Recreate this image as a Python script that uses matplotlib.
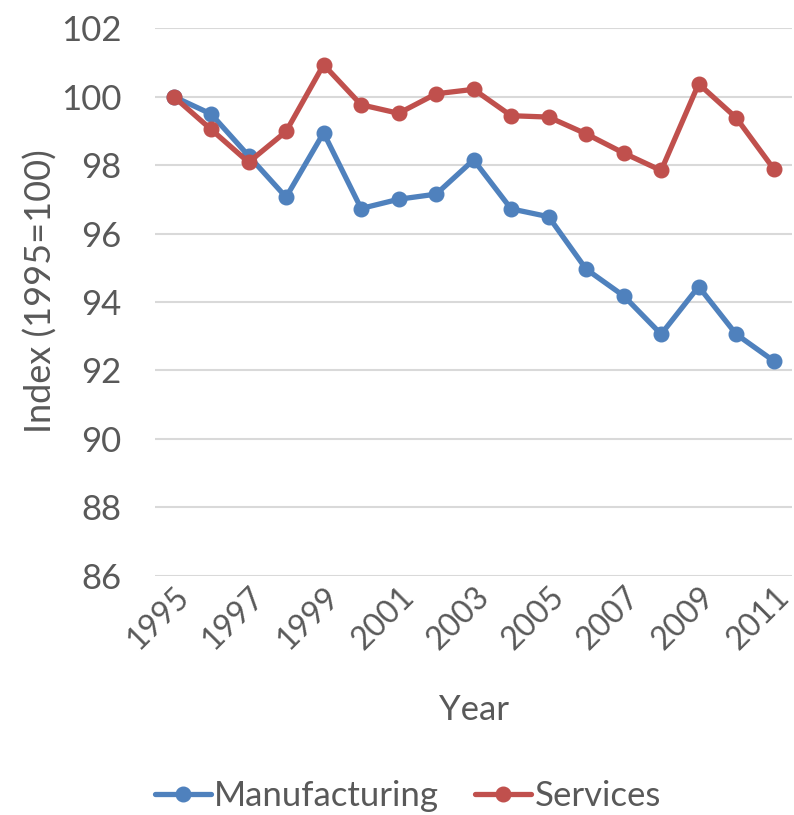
import matplotlib.pyplot as plt

years = list(range(1995, 2012))
manufacturing = [100, 99.49, 98.27, 97.06, 98.94, 96.73, 97.0, 97.15, 98.15,
                 96.72, 96.49, 94.96, 94.18, 93.06, 94.45, 93.06, 92.28]
services = [100, 99.04, 98.08, 98.98, 100.93, 99.76, 99.51, 100.08, 100.21,
            99.44, 99.40, 98.91, 98.35, 97.84, 100.37, 99.38, 97.89]
tick_years = [str(y) for y in range(1995, 2012, 2)]

plt.rcParams['font.family'] = ['Lato', 'DejaVu Sans']
text_color = '#595959'
fs = 25

fig = plt.figure(figsize=(7.94, 8.15), dpi=100)
ax = fig.add_axes([0.195, 0.2933, 0.803, 0.6723])

x = list(range(len(years)))
ax.plot(x, manufacturing, color='#4F81BD', lw=3.8, marker='o', ms=10.5,
        label='Manufacturing', solid_capstyle='round')
ax.plot(x, services, color='#C0504D', lw=3.8, marker='o', ms=10.5,
        label='Services', solid_capstyle='round')

ax.set_xlim(-0.5, len(years) - 0.5)
ax.set_ylim(86, 102)
ax.set_yticks(range(86, 103, 2))
ax.set_xticks(x[::2])
ax.set_xticklabels(tick_years, rotation=45, ha='right', rotation_mode='anchor')

for s in ax.spines.values():
    s.set_visible(False)
ax.grid(axis='y', color='#D9D9D9', lw=1.5)
ax.set_axisbelow(True)
ax.tick_params(length=0, labelsize=fs, colors=text_color)
ax.tick_params(axis='y', pad=24)
ax.tick_params(axis='x', pad=4, labelsize=23)

ax.set_xlabel('Year', fontsize=fs, color=text_color)
ax.xaxis.set_label_coords(0.5, -0.215)
ax.set_ylabel('Index (1995=100)', fontsize=fs + 1, color=text_color)
ax.yaxis.set_label_coords(-0.152, 0.52)

leg = ax.legend(loc='center', bbox_to_anchor=(0.397, -0.402), ncol=2,
                frameon=False, fontsize=fs, handlelength=1.6, handletextpad=0.1,
                columnspacing=1.05, labelcolor=text_color)

fig.savefig('out.png', dpi=100)
